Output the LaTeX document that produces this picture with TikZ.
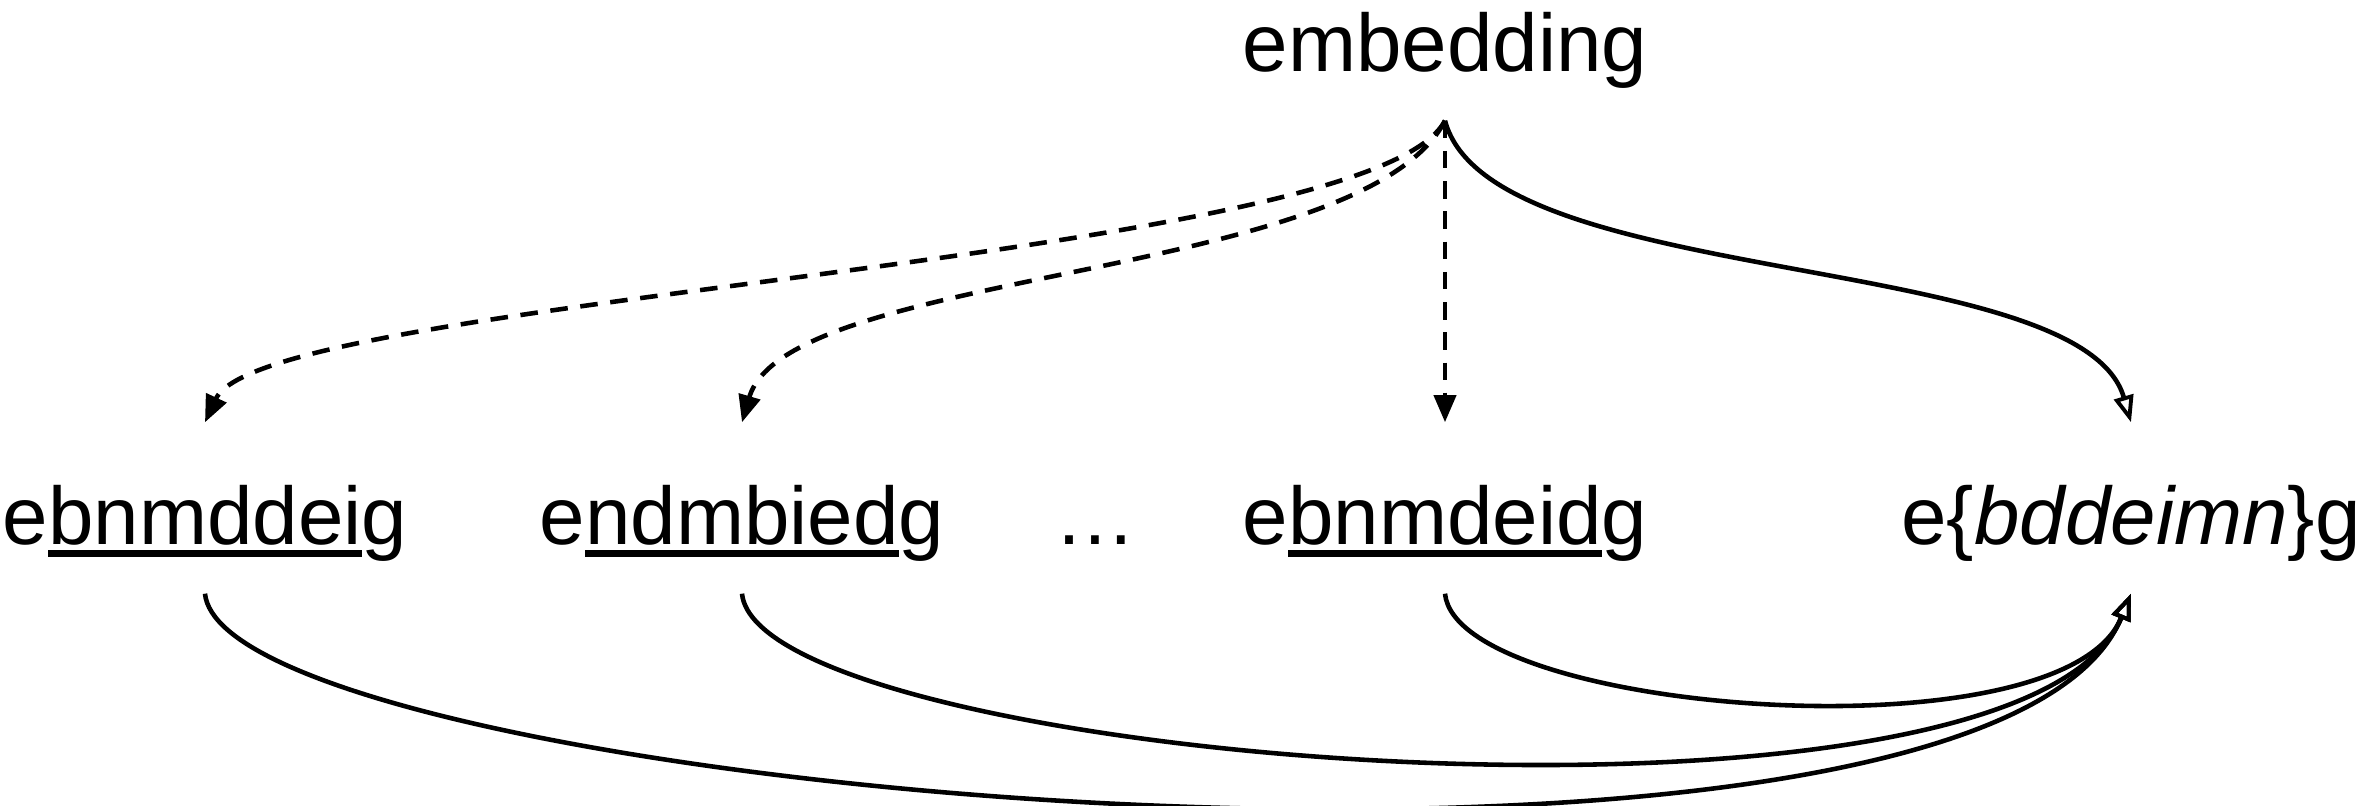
\documentclass[tikz,border=0pt]{standalone}
\usepackage{fontspec}
\setmainfont{Liberation Sans}
\usepackage{tikz}
\usetikzlibrary{arrows.meta}
\newcommand{\wordline}[1]{\setbox0\hbox{#1}\rlap{\vrule height -1.3pt depth 3.45pt width \wd0}\box0}
\tikzset{dashed arrow/.style={line width=1.3pt, dash pattern=on 5pt off 3.6pt, -{Triangle[length=7.7pt,width=6.2pt]}}}
\tikzset{open arrow/.style={line width=1.3pt, -{Triangle[open,length=7.6pt,width=5.6pt,line width=1.1pt]}}}

\begin{document}
\begin{tikzpicture}
\tikzstyle{WordStyle}=[anchor=base, inner sep=0pt, text height=1.22cm, text depth=0.48cm, font=\fontsize{23.25}{28}\selectfont]

\useasboundingbox (0,0) rectangle (23.66,8.05);

\node[WordStyle] (emb) at (14.45,7.33) {embedding};

\node[WordStyle] (w1) at (2.05,2.60) {e\wordline{bnmddei}g};
\node[WordStyle] (w2) at (7.42,2.60) {e\wordline{ndmbied}g};
\node[WordStyle] (dots) at (10.95,2.60) {\dots};
\node[WordStyle] (w3) at (14.45,2.60) {e\wordline{bnmdeid}g};
\node[WordStyle] (w4) at (21.31,2.60) {e\{\textit{bddeimn}\}g};

\draw[dashed arrow] (emb.south) .. controls +(-0.74,-1.42) and +(0.59,1.27) .. (w1.north);
\draw[dashed arrow] (emb.south) .. controls +(-0.83,-1.60) and +(0.45,1.54) .. (w2.north);
\draw[dashed arrow] (emb.south) -- (w3.north);
\draw[open arrow] (emb.south) .. controls +(0.45,-1.70) and +(-0.50,1.73) .. (w4.north);

\draw[open arrow] (w1.south) .. controls +(0.20,-2.00) and +(-1.44,-3.53) .. (w4.south);
\draw[open arrow] (w2.south) .. controls +(0.17,-1.70) and +(-1.10,-2.70) .. (w4.south);
\draw[open arrow] (w3.south) .. controls +(0.12,-1.20) and +(-0.68,-1.67) .. (w4.south);

\end{tikzpicture}
\end{document}
